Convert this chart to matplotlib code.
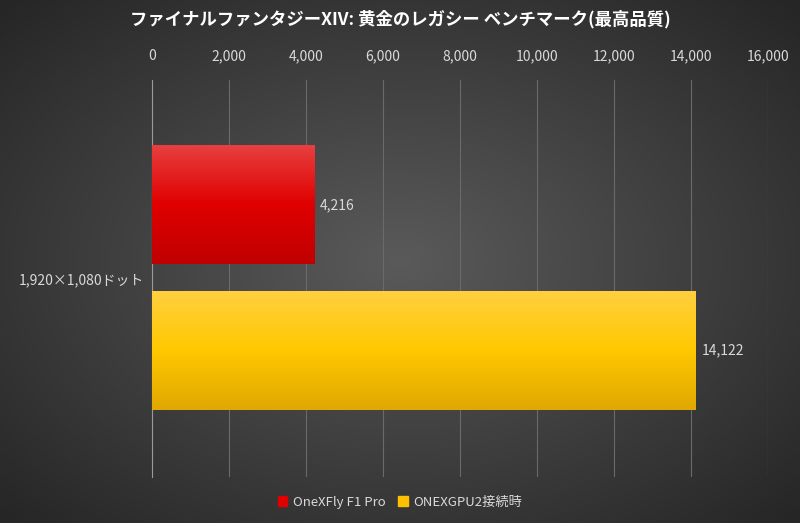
import numpy as np
import matplotlib
matplotlib.use("Agg")
import matplotlib.pyplot as plt
from matplotlib.colors import LinearSegmentedColormap

plt.rcParams['font.family'] = ['Noto Sans CJK JP', 'DejaVu Sans']

title = "ファイナルファンタジーXIV: 黄金のレガシー ベンチマーク(最高品質)"
category = "1,920×1,080ドット"
series = ["OneXFly F1 Pro", "ONEXGPU2接続時"]
values = [4216, 14122]
colors = ["#e00000", "#ffc000"]
xticks = list(range(0, 16001, 2000))

fig = plt.figure(figsize=(8, 5.23), dpi=100)
bg = fig.add_axes([0, 0, 1, 1], zorder=-10)
yy, xx = np.mgrid[-1:1:300j, -1:1:460j]
r = np.sqrt(xx**2 + yy**2)
bg.imshow(r, cmap=LinearSegmentedColormap.from_list("bg", ["#5a5a5a", "#262626"]),
          extent=[0, 1, 0, 1], aspect='auto', vmin=0, vmax=1.4)
bg.axis('off')

ax = fig.add_axes([0.19, 0.087, 0.77, 0.76])
ax.set_facecolor('none')
ypos = [0.686, 0.32]
bars = ax.barh(ypos, values, height=0.30, color=colors, zorder=3)
for b, c, v in zip(bars, colors, values):
    x0, y0, w, h = b.get_x(), b.get_y(), b.get_width(), b.get_height()
    grad = np.linspace(0, 1, 100).reshape(-1, 1)
    if c == "#e00000":
        cm = LinearSegmentedColormap.from_list("r", ["#c00000", "#e00000", "#e84040"])
    else:
        cm = LinearSegmentedColormap.from_list("y", ["#e0a800", "#ffc800", "#ffd040"])
    im = ax.imshow(grad, cmap=cm, extent=[x0, x0 + w, y0, y0 + h], aspect='auto',
                   origin='lower', zorder=4)
    im.set_clip_path(b)
    ax.text(v + 150, y0 + h / 2, f"{v:,}", va='center', ha='left', color='#d9d9d9', fontsize=10)

ax.set_xlim(0, 16000)
ax.set_ylim(0, 1)
ax.set_xticks(xticks)
ax.set_xticklabels([f"{t:,}" for t in xticks], color='#d9d9d9', fontsize=10)
ax.xaxis.tick_top()
ax.tick_params(axis='x', length=0, pad=12)
ax.set_yticks([0.5])
ax.set_yticklabels([category], color='#d9d9d9', fontsize=10)
ax.tick_params(axis='y', length=0, pad=6)
ax.grid(axis='x', color='#6a6a6a', linewidth=0.8, zorder=0)
for s in ['top', 'right', 'bottom']:
    ax.spines[s].set_visible(False)
ax.spines['left'].set_color('#9a9a9a')

fig.text(0.5, 0.963, title, ha='center', va='center', color='white', fontsize=12.5, fontweight='bold')

from matplotlib.patches import Patch
handles = [Patch(color=c) for c in colors]
fig.legend(handles, series, loc='center', bbox_to_anchor=(0.5, 0.04), ncol=2, frameon=False,
           labelcolor='#d9d9d9', fontsize=9.5, handlelength=0.7, handleheight=0.7, columnspacing=1.0,
           handletextpad=0.4)

fig.savefig("out.png", dpi=100)
